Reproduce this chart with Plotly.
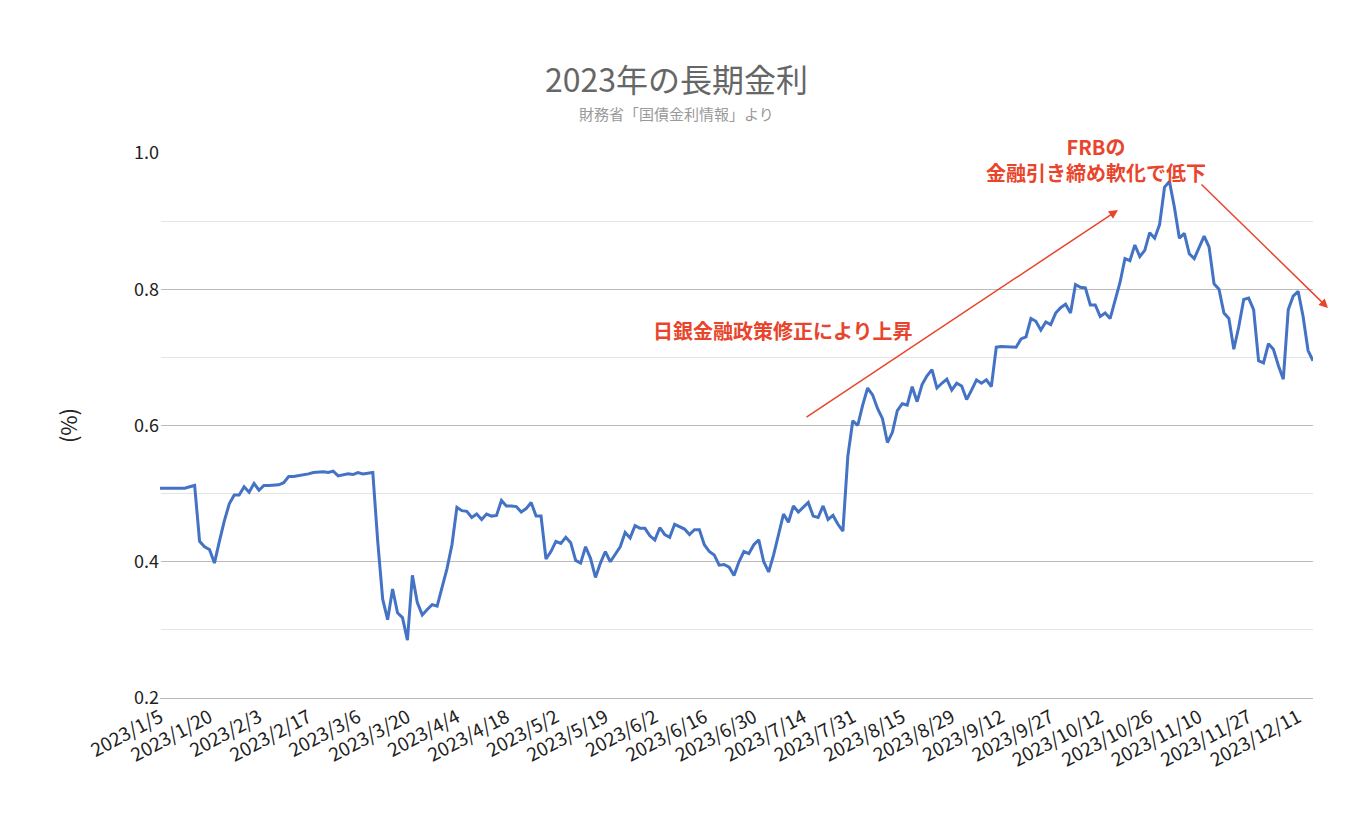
import pandas as pd
import plotly.graph_objects as go

holidays = ["2023-01-09","2023-02-23","2023-03-21","2023-05-03","2023-05-04","2023-05-05",
            "2023-07-17","2023-08-11","2023-09-18","2023-10-09","2023-11-03","2023-11-23"]
values = [0.508,0.508,0.509,0.509,0.509,0.508,0.510,0.512,0.430,0.422,
          0.418,0.398,0.430,0.460,0.485,0.498,0.498,0.510,0.502,0.515,
          0.505,0.512,0.512,0.512,0.513,0.516,0.525,0.525,0.526,0.527,
          0.529,0.531,0.532,0.532,0.531,0.533,0.526,0.527,0.529,0.528,
          0.531,0.529,0.530,0.531,0.430,0.345,0.315,0.360,0.325,0.318,
          0.285,0.380,0.340,0.322,0.330,0.337,0.335,0.362,0.390,0.425,
          0.480,0.475,0.474,0.465,0.470,0.462,0.470,0.467,0.468,0.490,
          0.482,0.482,0.481,0.473,0.478,0.487,0.467,0.467,0.404,0.415,
          0.430,0.427,0.436,0.428,0.402,0.398,0.422,0.405,0.377,0.398,
          0.415,0.400,0.412,0.422,0.443,0.435,0.453,0.449,0.449,0.438,
          0.432,0.450,0.440,0.436,0.455,0.452,0.448,0.440,0.447,0.447,
          0.425,0.415,0.410,0.395,0.396,0.392,0.380,0.400,0.415,0.412,
          0.425,0.432,0.400,0.385,0.410,0.440,0.470,0.458,0.482,0.473,
          0.480,0.487,0.467,0.465,0.482,0.462,0.468,0.455,0.445,0.555,
          0.607,0.600,0.630,0.655,0.645,0.625,0.610,0.575,0.590,0.622,
          0.632,0.630,0.657,0.635,0.660,0.673,0.682,0.655,0.662,0.668,
          0.652,0.662,0.658,0.638,0.652,0.667,0.662,0.667,0.657,0.715,
          0.716,0.716,0.715,0.715,0.727,0.730,0.757,0.753,0.740,0.752,
          0.748,0.765,0.773,0.778,0.765,0.807,0.803,0.802,0.777,0.777,
          0.760,0.765,0.757,0.785,0.810,0.845,0.842,0.865,0.848,0.857,
          0.883,0.875,0.895,0.950,0.958,0.920,0.875,0.882,0.852,0.845,
          0.862,0.878,0.862,0.808,0.800,0.765,0.757,0.712,0.745,0.785,
          0.787,0.770,0.695,0.692,0.720,0.712,0.688,0.668,0.770,0.790,
          0.797,0.760,0.710,0.695]

days = pd.bdate_range("2023-01-05", "2023-12-31")
days = [d for d in days if d.strftime("%Y-%m-%d") not in holidays][:len(values)]
dates = [f"{d.year}/{d.month}/{d.day}" for d in days]
tick_idx = list(range(0, len(dates), 10))
tick_text = [dates[i] for i in tick_idx]

font = "Noto Sans CJK JP"
red = "#e8452c"
L, R, T, B = 152, 43, 145, 134
PW, PH = 1348 - L - R, 824 - T - B
def px(x): return (x - L) / PW
def py(y): return (824 - B - y) / PH

fig = go.Figure(go.Scatter(x=list(range(len(values))), y=values, mode="lines",
                           line=dict(color="#4472c4", width=3)))
fig.update_layout(
    width=1348, height=824, plot_bgcolor="white", paper_bgcolor="white",
    margin=dict(l=L, r=R, t=T, b=B, autoexpand=False), showlegend=False,
    font=dict(family=font, size=18, color="#222"),
    xaxis=dict(range=[0, len(values) - 1], tickvals=tick_idx, ticktext=tick_text,
               tickangle=-28, showgrid=False, showline=True, linecolor="#bbb",
               ticks="", tickfont=dict(size=19)),
    yaxis=dict(range=[0.2, 1.0], dtick=0.2, tickformat=".1f", showgrid=True,
               gridcolor="#bbb", zeroline=False, ticks="",
               minor=dict(dtick=0.1, showgrid=True, gridcolor="#e4e4e4"),
               title=dict(text="(%)", standoff=50)),
    annotations=[
        dict(xref="paper", yref="paper", x=px(668), y=py(45), text="2023年の長期金利",
             showarrow=False, font=dict(size=32, color="#666")),
        dict(xref="paper", yref="paper", x=px(668), y=py(93), text="財務省「国債金利情報」より",
             showarrow=False, font=dict(size=15, color="#999")),
        dict(xref="paper", yref="paper", x=px(1110), y=py(202), ax=-313, ay=208,
             showarrow=True, arrowhead=2, arrowsize=1.2, arrowwidth=1.5, arrowcolor=red, text=""),
        dict(xref="paper", yref="paper", x=px(1320), y=py(300), ax=-128, ay=-125,
             showarrow=True, arrowhead=2, arrowsize=1.2, arrowwidth=1.5, arrowcolor=red, text=""),
        dict(xref="paper", yref="paper", x=px(775), y=py(306),
             text="<b>日銀金融政策修正により上昇</b>", showarrow=False,
             font=dict(size=20, color=red)),
        dict(xref="paper", yref="paper", x=px(1200), y=py(122),
             text="<b>FRBの<br>金融引き締め軟化で低下</b>", showarrow=False,
             font=dict(size=20, color=red)),
    ],
)
fig.write_html("out.html")
